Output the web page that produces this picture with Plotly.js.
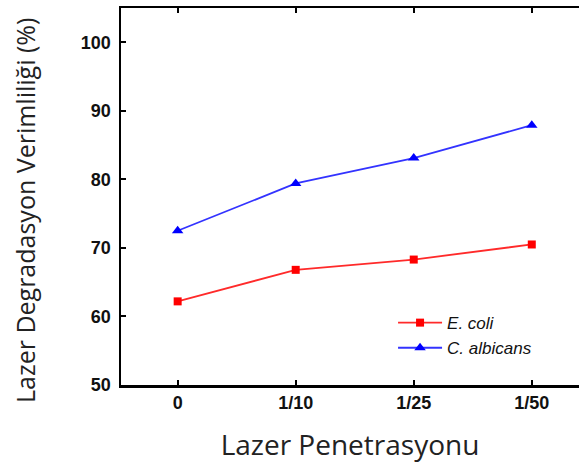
<!DOCTYPE html>
<html>
<head>
<meta charset="utf-8">
<script src="https://cdn.plot.ly/plotly-3.0.1.min.js"></script>
<style>html,body{margin:0;padding:0;background:#fff;overflow:hidden;}</style>
</head>
<body>
<div id="chart" style="width:579px;height:467px;"></div>
<script>
const categories = ["0", "1/10", "1/25", "1/50"];
const ecoli = [62.2, 66.8, 68.3, 70.5];
const calbicans = [72.5, 79.4, 83.1, 87.9];
const seriesNames = ["<i>E. coli</i>", "<i>C. albicans</i>"];
const yTicks = [50, 60, 70, 80, 90, 100];
const xTitle = "Lazer Penetrasyonu";
const yTitle = "Lazer Degradasyon Verimliliği (%)";

const xIdx = categories.map((c, i) => i);

const traces = [
  {
    x: xIdx, y: ecoli, name: seriesNames[0], type: "scatter", mode: "lines+markers",
    line: {color: "#ff2a2a", width: 1.8},
    marker: {symbol: "square", size: 8, color: "#ff0000"}
  },
  {
    x: xIdx, y: calbicans, name: seriesNames[1], type: "scatter", mode: "lines+markers",
    line: {color: "#3333ff", width: 1.8},
    marker: {symbol: "triangle-up", size: 10, color: "#0000ff"}
  }
];

const tickFont = {family: "Liberation Sans, Arial, sans-serif", size: 18, color: "#111", weight: "bold"};
const titleFamily = "Open Sans, Noto Sans, sans-serif";

const layout = {
  width: 579, height: 467,
  margin: {l: 121, r: 0, t: 8, b: 82},
  paper_bgcolor: "#fff", plot_bgcolor: "#fff",
  showlegend: true,
  legend: {
    x: 0.594, y: 0.212, xanchor: "left", yanchor: "top",
    bgcolor: "rgba(0,0,0,0)",
    itemwidth: 44,
    font: {family: "Liberation Sans, Arial, sans-serif", size: 17, color: "#111"},
    tracegroupgap: 0
  },
  xaxis: {
    range: [-0.48, 3.4],
    tickmode: "array", tickvals: xIdx, ticktext: categories,
    ticks: "inside", ticklen: 5, tickwidth: 2, tickcolor: "#000",
    showline: true, linecolor: "#000", linewidth: 2.5, mirror: "ticks",
    showgrid: false, zeroline: false,
    tickfont: tickFont,
    title: {text: xTitle, font: {family: titleFamily, size: 28, color: "#222"}, standoff: 24},
    automargin: false
  },
  yaxis: {
    range: [50, 105],
    tickmode: "array", tickvals: yTicks,
    ticks: "inside", ticklen: 5, tickwidth: 2, tickcolor: "#000",
    showline: true, linecolor: "#000", linewidth: 2.5, mirror: false,
    showgrid: false, zeroline: false,
    tickfont: tickFont,
    ticklabelstandoff: 4,
    automargin: false
  },
  annotations: [{
    text: yTitle, textangle: -90,
    xref: "paper", yref: "paper", x: 0, y: 0.4615,
    xanchor: "center", yanchor: "middle", xshift: -96,
    showarrow: false,
    font: {family: titleFamily, size: 25, color: "#222"}
  }]
};

Plotly.newPlot("chart", traces, layout, {displayModeBar: false, staticPlot: true});
</script>
</body>
</html>
